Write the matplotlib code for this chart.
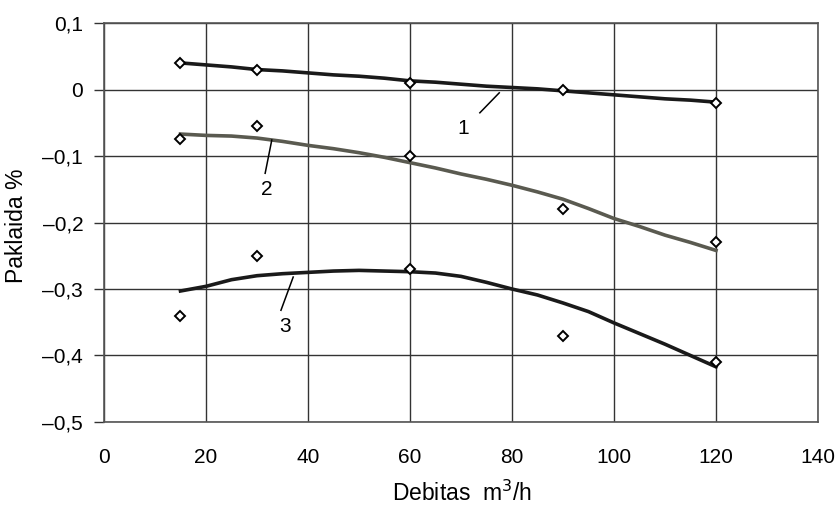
# Paklaida vs debitas: measured points with fitted trend lines 1-3.

import matplotlib
matplotlib.use("Agg")
import matplotlib.pyplot as plt

# measured points
x_points = [15, 30, 60, 90, 120]
pts_1 = [0.04, 0.03, 0.01, 0.0, -0.02]
pts_2 = [-0.075, -0.055, -0.10, -0.18, -0.23]
pts_3 = [-0.34, -0.25, -0.27, -0.37, -0.41]

# trend curves
x_curve = [15, 20, 25, 30, 35, 40, 45, 50, 55, 60, 65, 70,
           75, 80, 85, 90, 95, 100, 105, 110, 115, 120]
curve_1 = [0.040, 0.037, 0.034, 0.030, 0.028, 0.025, 0.022, 0.020, 0.017, 0.013, 0.011,
           0.008, 0.005, 0.003, 0.001, -0.002, -0.005, -0.008, -0.011, -0.014, -0.016, -0.019]
curve_2 = [-0.067, -0.069, -0.070, -0.073, -0.078, -0.084, -0.089, -0.095, -0.102, -0.110,
           -0.118, -0.127, -0.135, -0.144, -0.154, -0.165, -0.179, -0.194, -0.206, -0.219,
           -0.230, -0.242]
curve_3 = [-0.303, -0.296, -0.286, -0.280, -0.277, -0.275, -0.273, -0.272, -0.273, -0.274,
           -0.276, -0.281, -0.290, -0.300, -0.309, -0.321, -0.334, -0.351, -0.367, -0.383,
           -0.400, -0.417]

x_ticks = [0, 20, 40, 60, 80, 100, 120, 140]
y_ticks = [-0.5, -0.4, -0.3, -0.2, -0.1, 0.0, 0.1]
y_tick_labels = ["–0,5", "–0,4", "–0,3", "–0,2", "–0,1", "0", "0,1"]

# curve labels: (text, text pos, leader start, leader end)
curve_labels = [
    ("1", (70.4, -0.058), (73.7, -0.035), (77.5, -0.005)),
    ("2", (32.0, -0.151), (31.6, -0.126), (32.9, -0.076)),
    ("3", (35.5, -0.357), (34.7, -0.332), (37.1, -0.282)),
]

plt.rcParams["font.family"] = ["Liberation Sans", "DejaVu Sans"]


def main():
    fig = plt.figure(figsize=(8.4, 5.08), dpi=100)
    ax = fig.add_axes([0.1238, 0.1693, 0.85, 0.7854])

    ax.plot(x_curve, curve_1, color="#1a1a1a", linewidth=2.6, zorder=3)
    ax.plot(x_curve, curve_2, color="#5a5a50", linewidth=2.6, zorder=3)
    ax.plot(x_curve, curve_3, color="#1a1a1a", linewidth=2.6, zorder=3)

    for pts in (pts_1, pts_2, pts_3):
        ax.plot(x_points, pts, linestyle="none", marker="D", markersize=5.6,
                markerfacecolor="white", markeredgecolor="black",
                markeredgewidth=1.4, zorder=4)

    for text, pos, p0, p1 in curve_labels:
        ax.plot([p0[0], p1[0]], [p0[1], p1[1]], color="black", linewidth=1.1, zorder=3)
        ax.text(pos[0], pos[1], text, fontsize=15, ha="center", va="center")

    ax.set_xlim(0, 140)
    ax.set_ylim(-0.5, 0.1)
    ax.set_xticks(x_ticks)
    ax.set_yticks(y_ticks)
    ax.set_yticklabels(y_tick_labels)
    ax.tick_params(axis="y", length=7, width=1, pad=8, labelsize=15, color="#333333")
    ax.tick_params(axis="x", length=0, pad=19, labelsize=15)

    ax.grid(True, color="#333333", linewidth=1.0)
    ax.set_axisbelow(True)
    for spine in ax.spines.values():
        spine.set_color("#555555")
        spine.set_linewidth(1.2)

    ax.set_xlabel("Debitas  m$^3$/h", fontsize=16.5)
    ax.set_ylabel("Paklaida %", fontsize=16.5)
    ax.xaxis.set_label_coords(0.501, -0.148)
    ax.yaxis.set_label_coords(-0.106, 0.492)

    fig.savefig("out.png", dpi=100)


if __name__ == "__main__":
    main()
